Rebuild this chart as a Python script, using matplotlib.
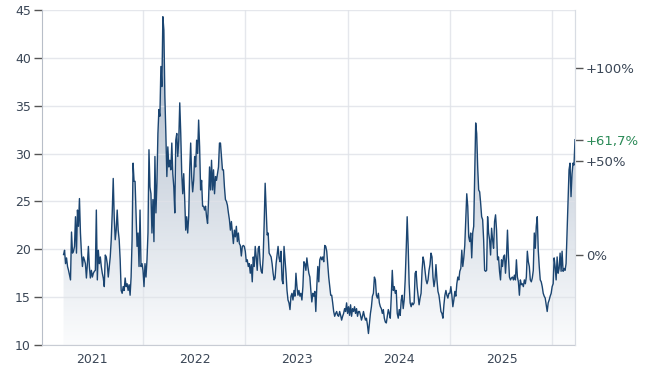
import numpy as np
import pandas as pd
import matplotlib
matplotlib.use('Agg')
import matplotlib.pyplot as plt
import matplotlib.dates as mdates
from matplotlib.patches import Polygon

# ================= data =================
START = '2020-09-20'
END = '2025-09-20'

values = [
    19.45, 19.9, 18.5, 19.1, 18.2, 17.8, 17.3, 16.8, 21.8, 19.6, 19.8, 20.3, 23.4, 19.6, 24.1, 22.4,
    25.3, 21.7, 19.6, 18.2, 19.2, 18.9, 18.5, 17.0, 18.5, 20.3, 18.2, 17.0, 17.8, 17.1, 17.5, 17.7,
    17.8, 24.1, 16.8, 19.9, 18.5, 19.2, 18.2, 17.5, 17.0, 16.1, 19.4, 19.2, 18.5, 17.1, 18.2, 19.2,
    21.0, 23.8, 27.4, 23.4, 21.0, 22.0, 24.1, 22.0, 21.0, 18.9, 15.7, 15.4, 16.1, 15.7, 17.0, 16.1,
    16.4, 15.7, 16.3, 15.2, 17.1, 21.0, 29.0, 27.1, 27.1, 23.8, 20.3, 21.7, 18.2, 24.1, 18.2, 18.5,
    17.8, 16.1, 18.5, 17.1, 18.9, 21.7, 30.4, 26.5, 25.8, 21.7, 25.2, 20.8, 29.7, 23.8, 26.9, 32.1,
    34.6, 33.9, 39.1, 37.0, 44.3, 42.9, 36.0, 32.1, 27.6, 30.7, 28.6, 29.3, 28.3, 31.1, 27.9, 26.5,
    23.8, 31.4, 32.1, 29.7, 31.4, 35.3, 32.1, 27.9, 25.8, 27.9, 25.2, 22.0, 23.4, 21.7, 23.4, 28.3,
    31.1, 27.6, 26.0, 27.2, 29.7, 28.6, 31.4, 30.0, 33.5, 30.7, 26.2, 27.2, 24.5, 24.5, 24.1, 24.5,
    23.4, 22.7, 25.2, 28.6, 26.2, 29.3, 26.2, 28.3, 25.8, 27.6, 27.2, 27.9, 28.6, 31.1, 31.1,
    # 2022 h2 - 2023
    29.7, 28.3, 28.3, 26.5, 25.2, 25.0, 24.6, 23.8, 23.1, 22.0, 22.9, 21.7, 20.6, 22.0, 21.3, 22.4,
    20.8, 21.7, 20.6, 20.4, 19.3, 20.3, 20.4, 20.3, 19.8, 18.7, 18.9, 18.2, 18.5, 17.5, 18.4, 16.6,
    19.2, 18.2, 20.3, 19.2, 17.8, 20.1, 20.3, 18.5, 17.7, 17.5, 19.2, 22.7, 26.9, 24.1, 21.5, 21.7,
    19.6, 19.4, 19.2, 18.5, 17.5, 16.8, 17.0, 18.5, 19.4, 20.3, 19.1, 18.7, 19.8, 16.8, 16.4, 20.3,
    18.9, 17.5, 15.7, 14.7, 14.4, 13.7, 15.1, 15.4, 14.7, 15.7, 15.1, 17.5, 16.1, 15.2, 15.7, 15.1,
    15.4, 14.7, 16.1, 18.7, 18.5, 17.8, 19.1, 18.2, 17.5, 17.1, 15.7, 14.5, 15.4, 15.1, 15.6, 13.5,
    16.1, 18.2, 16.6, 18.9, 19.2, 18.9, 19.2, 18.7, 20.4, 20.3, 19.8, 18.5, 17.1, 16.1, 15.2, 15.2,
    14.4, 13.5, 13.0, 13.3, 13.5,
    # 2023 h2 - 2025
    13.1, 13.0, 13.5, 13.1, 12.6, 13.0, 13.3, 13.8, 13.5, 14.4, 13.3, 14.0, 13.1, 14.2, 13.0, 13.8,
    13.5, 14.0, 13.3, 13.8, 13.0, 13.5, 13.5, 13.1, 12.6, 13.0, 13.5, 13.0, 12.6, 12.8, 12.1, 11.2,
    12.3, 13.3, 14.0, 15.1, 15.4, 17.1, 16.8, 15.2, 14.9, 15.4, 14.4, 14.0, 13.8, 13.3, 13.7, 12.8,
    12.4, 12.3, 13.0, 13.7, 13.3, 12.8, 15.1, 17.8, 15.7, 16.1, 15.4, 15.7, 13.3, 12.8, 13.7, 13.1,
    14.7, 15.2, 13.8, 14.7, 16.8, 19.9, 23.4, 20.3, 16.4, 14.4, 14.0, 14.4, 14.2, 14.4, 17.5, 17.7,
    16.1, 15.1, 14.2, 14.9, 15.4, 17.8, 19.2, 18.7, 17.7, 16.8, 16.4, 16.8, 17.8, 18.4, 19.6, 19.2,
    17.1, 16.1, 16.8, 18.4, 16.8, 15.6, 15.2, 14.4, 13.5, 13.3, 12.8, 14.2, 15.2, 15.7, 15.2, 14.9,
    15.4, 15.4, 16.1, 15.2, 14.0, 14.7, 15.6, 15.1, 16.4, 17.1, 16.8, 17.7, 18.0, 19.9, 18.2, 19.1,
    20.4, 23.1, 25.8, 24.5, 21.3, 20.8, 21.7, 19.1, 21.7, 22.4, 27.8, 33.2, 32.1, 28.6, 26.2, 26.0,
    24.8, 23.4, 23.1, 21.0, 17.8, 17.7, 17.8, 23.4, 21.7, 21.0, 19.4, 22.2, 21.0, 20.1, 22.9, 23.6,
    22.0, 18.9, 19.2, 17.7, 16.8, 18.9, 18.2, 19.2, 19.4, 17.5, 19.2, 22.0, 19.2, 17.1, 16.8, 17.0,
    17.1, 16.8, 17.3, 16.8, 18.9, 17.1, 16.6, 15.2, 16.8, 16.3, 16.4, 16.1, 16.8, 16.4, 17.1, 19.8,
    18.7, 18.2, 16.8, 16.6, 17.0, 17.8, 21.7, 20.1, 22.4, 23.4, 19.9, 18.2, 16.8, 16.6, 16.1, 15.4,
    15.1, 14.9, 14.2, 13.5, 14.4, 14.7, 15.1, 15.4, 16.1, 16.4, 19.1, 18.2, 16.8, 19.2, 17.5, 18.0,
    19.6, 17.7, 19.8, 17.7, 18.0, 17.8, 18.5, 21.7, 25.2, 28.3, 29.0, 25.5, 27.9, 29.0, 28.8, 31.45,
]

left_ticks = [10, 15, 20, 25, 30, 35, 40, 45]
pct_ticks = [0, 50, 100]
pct_labels = ['0%', '+50%', '+100%']
years = [2021, 2022, 2023, 2024, 2025]

LINE = '#1b4571'
TXT = '#3a4656'
GRID = '#dfe2e8'
GREEN = '#2b8a57'
# ========================================

dates = pd.date_range(START, END, periods=len(values))
base = values[0]
last = values[-1]

fig = plt.figure(figsize=(6.5, 3.7), dpi=100)
ax = fig.add_axes([42 / 650, 25 / 370, 533 / 650, 335 / 370])

x = mdates.date2num(dates)
y = np.array(values)

# gradient fill under the line
x0, x1 = mdates.date2num(pd.Timestamp('2020-07-05')), x[-1]
grad = np.linspace(1, 0, 256).reshape(-1, 1)
cmap = matplotlib.colors.LinearSegmentedColormap.from_list('g', ['#fbfcfd', '#a7b5c7'])
im = ax.imshow(grad, extent=[x0, x1, 10, 45], aspect='auto', cmap=cmap,
               vmin=0, vmax=1, origin='upper', zorder=1)
poly = Polygon(np.column_stack([np.r_[x[0], x, x[-1]], np.r_[10, y, 10]]),
               closed=True, facecolor='none', edgecolor='none')
ax.add_patch(poly)
im.set_clip_path(poly)

ax.plot(x, y, color=LINE, lw=1.0, zorder=3)

ax.set_xlim(x0, x1)
ax.set_ylim(10, 45)

# grids (drawn over the light fill, under the line)
ax.set_yticks(left_ticks)
for v in left_ticks:
    ax.axhline(v, color=GRID, lw=1, alpha=0.8, zorder=2)
for yr in years:
    ax.axvline(mdates.date2num(pd.Timestamp(f'{yr}-07-01')), color=GRID, lw=1, alpha=0.8, zorder=2)
ax.set_xticks([mdates.date2num(pd.Timestamp(f'{yr}-01-01')) for yr in years])
ax.set_xticklabels([str(yr) for yr in years])
ax.tick_params(axis='x', length=0, pad=6, labelsize=9, labelcolor=TXT)
ax.tick_params(axis='y', length=6, width=1, color='#555', labelsize=9, labelcolor=TXT, pad=2)

ax.spines['top'].set_visible(False)
ax.spines['left'].set_color('#b8bec8')
ax.spines['bottom'].set_color('#c8ccd4')
ax.spines['right'].set_color('#d8dce3')

# right axis with % change
ax2 = ax.twinx()
ax2.set_ylim(10, 45)
ax2.set_yticks([base * (1 + p / 100) for p in pct_ticks] + [last])
ax2.set_yticklabels(pct_labels + ['+' + f'{(last / base - 1) * 100:.1f}'.replace('.', ',') + '%'])
ax2.tick_params(axis='y', length=6, width=1, color='#555', labelsize=9.5, labelcolor=TXT, pad=2)
ax2.get_yticklabels()[-1].set_color(GREEN)
for s in ['top', 'left', 'bottom']:
    ax2.spines[s].set_visible(False)
ax2.spines['right'].set_color('#d8dce3')

fig.savefig('out.png', dpi=100)
